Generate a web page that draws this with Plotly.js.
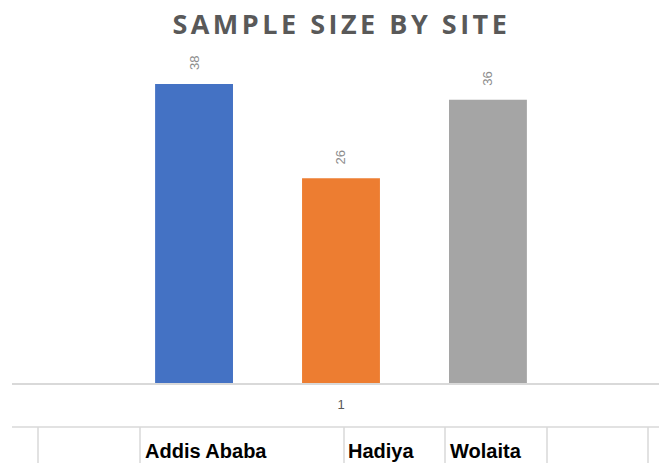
<!DOCTYPE html>
<html>
<head>
<meta charset="utf-8">
<script src="https://cdn.plot.ly/plotly-3.0.1.min.js"></script>
<style>html,body{margin:0;padding:0;background:#fff;}#chart{width:659px;height:463px;}</style>
</head>
<body>
<div id="chart"></div>
<script>
// ---- data ----
const category = ['1'];
const sites = ['Addis Ababa', 'Hadiya', 'Wolaita'];
const sampleSizes = [38, 26, 36];
const barColors = ['#4472c4', '#ed7d31', '#a5a5a5'];
const titleText = 'SAMPLE SIZE BY SITE';

// ---- geometry helpers (pixel -> paper) ----
const W = 659, H = 463;
const M = {l: 12, r: 0, t: 40, b: 80};
const pw = W - M.l - M.r, ph = H - M.t - M.b;
const px = x => (x - M.l) / pw;
const py = y => (H - M.b - y) / ph;

const traces = sites.map((s, i) => ({
  type: 'bar',
  name: s,
  x: category,
  y: [sampleSizes[i]],
  marker: {color: barColors[i]},
  texttemplate: '\u00a0\u00a0\u00a0%{y}',
  textposition: 'outside',
  textangle: -90,
  textfont: {family: 'Liberation Sans, Arial, sans-serif', size: 13, color: '#8c8c8c'},
  cliponaxis: false,
  hoverinfo: 'skip'
}));

// spreadsheet fragment below the chart
const gridColor = '#d9d9d9';
const shapes = [
  {type: 'line', xref: 'paper', yref: 'paper', x0: px(12), x1: px(659), y0: py(427), y1: py(427), line: {color: gridColor, width: 1.5}}
];
[38, 140, 344, 445, 547, 648].forEach(x => {
  shapes.push({type: 'line', xref: 'paper', yref: 'paper', x0: px(x), x1: px(x), y0: py(427), y1: py(463), line: {color: gridColor, width: 1.5}});
});
const cellX = [143, 346, 448];
const annotations = sites.map((s, i) => ({
  xref: 'paper', yref: 'paper', x: px(cellX[i]), y: py(450.5),
  xanchor: 'left', yanchor: 'middle', showarrow: false,
  text: '<b>' + s + '</b>',
  font: {family: 'Liberation Sans, Arial, sans-serif', size: 20, color: '#000000'}
}));

const layout = {
  width: W, height: H,
  margin: M,
  paper_bgcolor: '#ffffff', plot_bgcolor: '#ffffff',
  showlegend: false,
  barmode: 'group',
  bargap: 0.33,
  bargroupgap: 0.47,
  title: {
    text: '<b>' + titleText + '</b>',
    x: 0.518, xanchor: 'center', y: 1 - 25 / H, yanchor: 'middle',
    font: {family: 'Open Sans, sans-serif', size: 27, color: '#595959'}
  },
  xaxis: {
    type: 'category',
    range: [-0.5, 0.4833],
    showline: true, linecolor: gridColor, linewidth: 1.5,
    ticks: '', showgrid: false, zeroline: false,
    ticklabelstandoff: 9,
    tickfont: {family: 'Liberation Sans, Arial, sans-serif', size: 13, color: '#595959'},
    fixedrange: true
  },
  yaxis: {
    range: [0, 43.58],
    visible: false, showgrid: false, zeroline: false, fixedrange: true
  },
  shapes: shapes,
  annotations: annotations
};

Plotly.newPlot('chart', traces, layout, {displayModeBar: false, staticPlot: true}).then(gd => {
  const t = gd.querySelector('.gtitle');
  if (t) t.style.letterSpacing = '3.5px';
});
</script>
</body>
</html>
